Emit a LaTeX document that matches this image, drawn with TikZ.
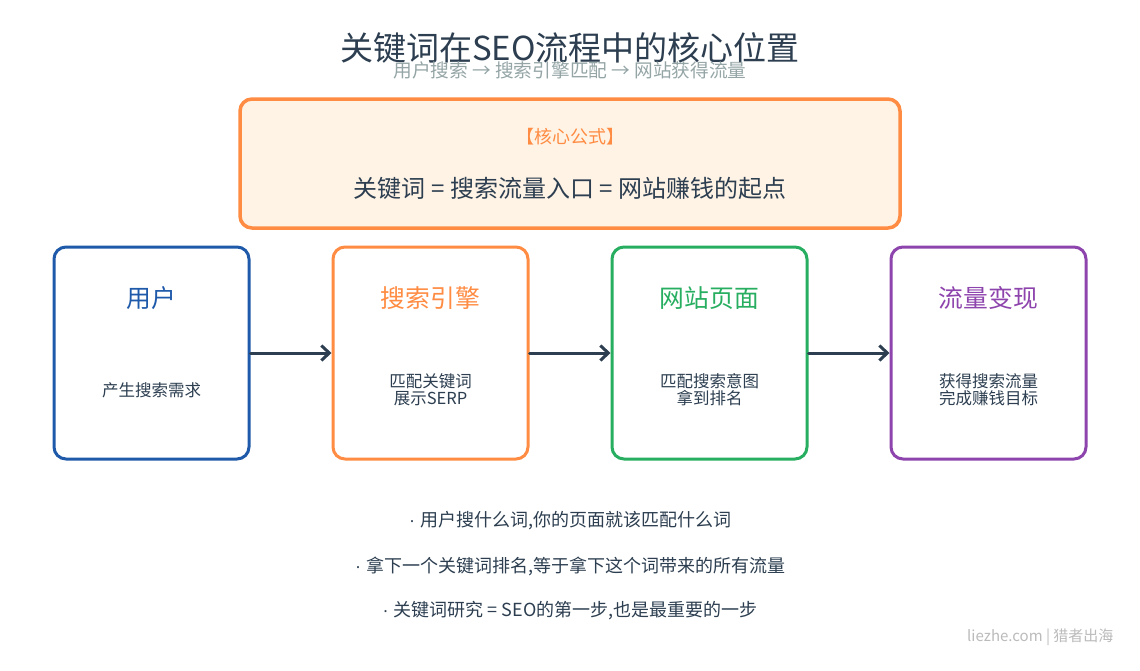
\documentclass[tikz,border=0pt]{standalone}
\usepackage{fontspec}
\setmainfont{Noto Sans CJK SC}
\newfontfamily\latinfont{Liberation Sans}
\usetikzlibrary{arrows.meta}
\definecolor{dark}{HTML}{2C3E50}
\definecolor{subgray}{HTML}{95A5A6}
\definecolor{corange}{HTML}{FF8C42}
\definecolor{cfill}{HTML}{FFF3E6}
\definecolor{cblue}{HTML}{1F5AAA}
\definecolor{cgreen}{HTML}{27AE60}
\definecolor{cpurple}{HTML}{8E44AD}
\definecolor{wm}{HTML}{BBBBBB}
\newcommand{\bdot}{{\latinfont ·\ }}
\tikzset{
  stagebox/.style={draw=#1, line width=3pt, rounded corners=12pt, fill=white, minimum width=195pt, minimum height=212pt},
  stagetitle/.style={text=#1, font=\fontsize{24.8}{28}\selectfont, anchor=center},
  stagedesc/.style={text=dark, font=\fontsize{16.5}{18}\selectfont, align=center, anchor=center},
  flowarrow/.style={draw=dark, line width=3pt, line cap=round, -{Straight Barb[length=8pt,width=15pt,line width=3pt]}},
  bullet/.style={text=dark, font=\fontsize{18}{20}\selectfont, anchor=center}
}
\begin{document}
\begin{tikzpicture}[x=1pt,y=-1pt]
\useasboundingbox (0,0) rectangle (1140,670);
\fill[white] (0,0) rectangle (1140,670);
% title
\node[text=dark, font=\fontsize{33}{40}\selectfont] (title) at (570,48) {关键词在SEO流程中的核心位置};
\node[text=subgray, font=\fontsize{18.7}{22}\selectfont] (subtitle) at (570,70) {用户搜索 → 搜索引擎匹配 → 网站获得流量};
% formula box
\node[draw=corange, line width=3.5pt, rounded corners=12pt, fill=cfill, minimum width=660pt, minimum height=129pt] (formula) at (570,163.5) {};
\node[text=corange, font=\fontsize{18}{22}\selectfont] (ftitle) at (570,137) {【核心公式】};
\node[text=dark, font=\fontsize{24}{28}\selectfont] (ftext) at (570,188) {关键词 = 搜索流量入口 = 网站赚钱的起点};
% stages
\node[stagebox=cblue] (s1) at (151.5,353) {};
\node[stagebox=corange] (s2) at (430.5,353) {};
\node[stagebox=cgreen] (s3) at (709.5,353) {};
\node[stagebox=cpurple] (s4) at (988.5,353) {};
\node[stagetitle=cblue] (t1) at (151.5,298) {用户};
\node[stagetitle=corange] (t2) at (430.5,298) {搜索引擎};
\node[stagetitle=cgreen] (t3) at (709.5,298) {网站页面};
\node[stagetitle=cpurple] (t4) at (988.5,298) {流量变现};
\node[stagedesc] (d1) at (151.5,390) {产生搜索需求};
\node[stagedesc] (d2) at (430.5,390) {匹配关键词\\[-1pt]展示SERP};
\node[stagedesc] (d3) at (709.5,390) {匹配搜索意图\\[-1pt]拿到排名};
\node[stagedesc] (d4) at (988.5,390) {获得搜索流量\\[-1pt]完成赚钱目标};
% arrows
\draw[flowarrow] (s1.east) -- (s2.west);
\draw[flowarrow] (s2.east) -- (s3.west);
\draw[flowarrow] (s3.east) -- (s4.west);
% bullets
\node[bullet] (b1) at (570,521) {\bdot 用户搜什么词,你的页面就该匹配什么词};
\node[bullet] (b2) at (570,566) {\bdot 拿下一个关键词排名,等于拿下这个词带来的所有流量};
\node[bullet] (b3) at (570,611) {\bdot 关键词研究 = SEO的第一步,也是最重要的一步};
% watermark
\node[text=wm, font=\fontsize{15}{18}\selectfont, anchor=east] (wmk) at (1117,637) {liezhe.com | 猎者出海};
\end{tikzpicture}
\end{document}
